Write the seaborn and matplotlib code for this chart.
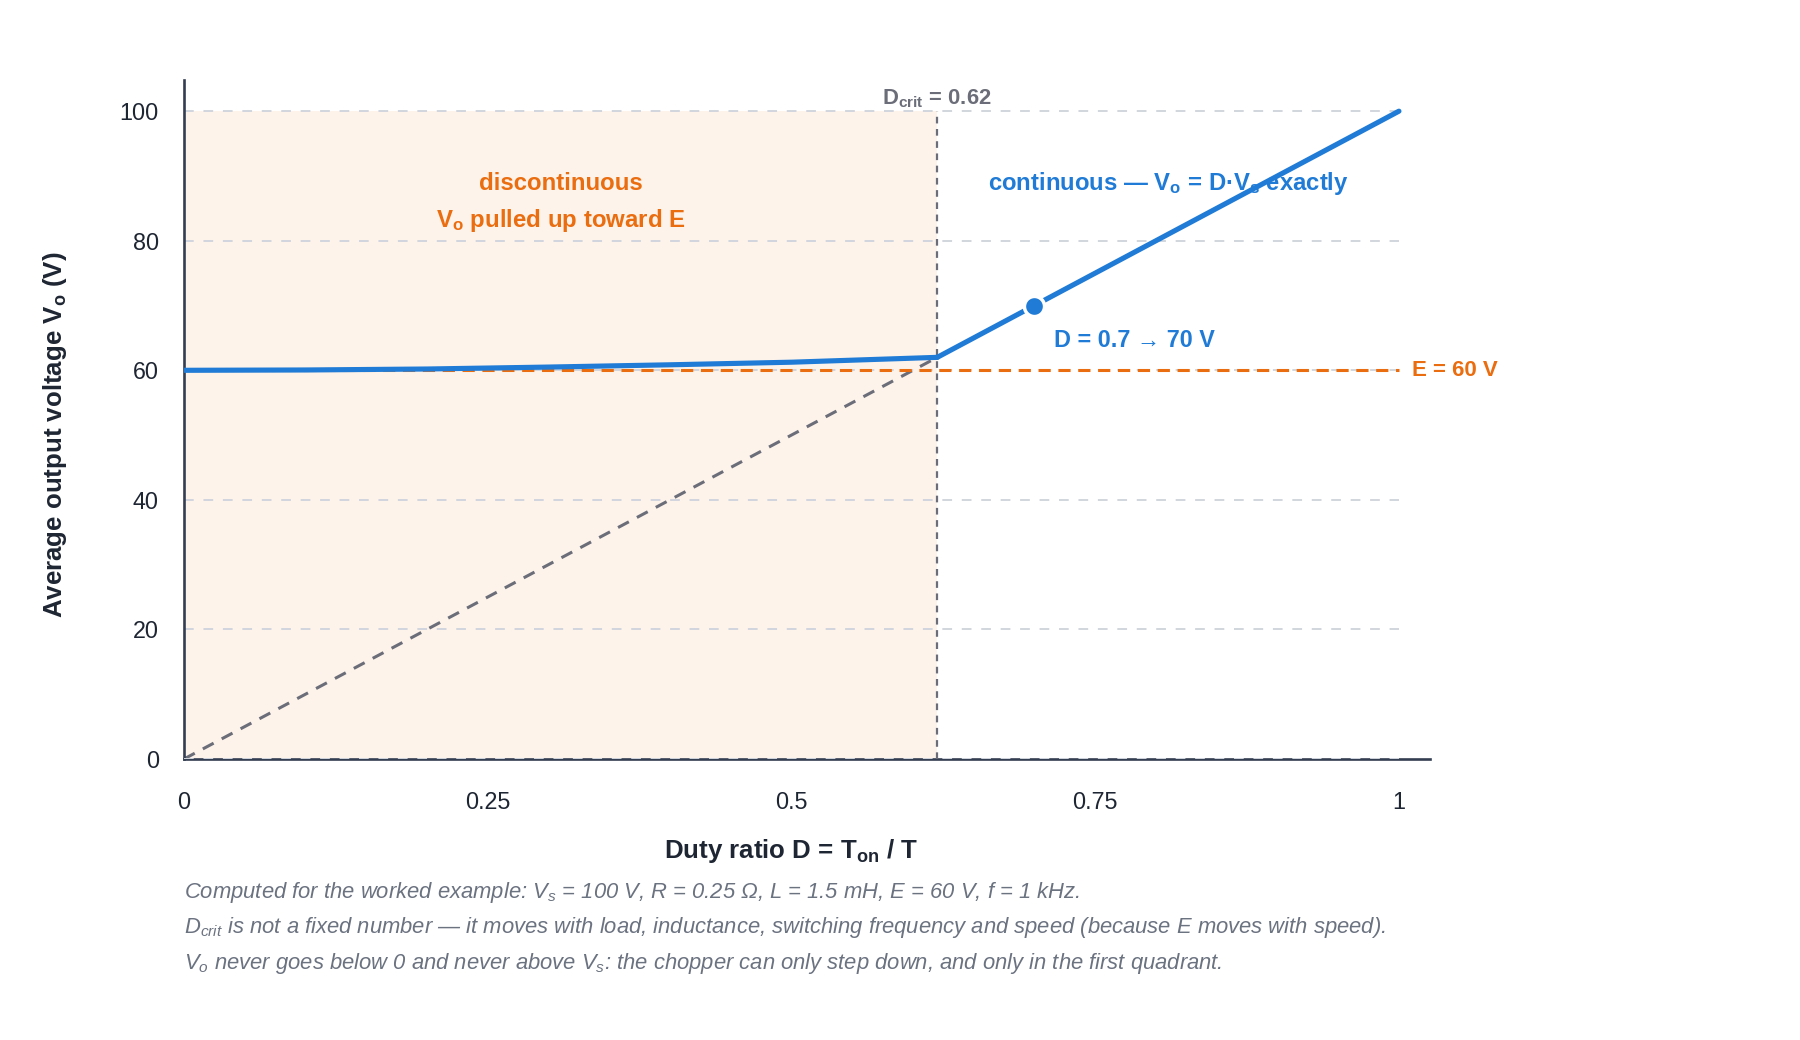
import matplotlib
matplotlib.use("Agg")
import matplotlib.pyplot as plt
import seaborn as sns
import pandas as pd

# Worked example: Vs = 100 V, E = 60 V, critical duty ratio 0.62
duty_disc = [0.0, 0.1, 0.2, 0.25, 0.3, 0.4, 0.5, 0.62]
vo_disc = [60.0, 60.05, 60.2, 60.35, 60.5, 60.85, 61.25, 62.0]
duty_cont = [0.62, 0.7, 0.8, 0.9, 1.0]
vo_cont = [62.0, 70.0, 80.0, 90.0, 100.0]
duty_ideal = [0.0, 0.62]
vo_ideal = [0.0, 62.0]
duty_e = [0.0, 1.0]
vo_e = [60.0, 60.0]
d_crit = 0.62
op_point = (0.7, 70.0)
x_ticks = [0, 0.25, 0.5, 0.75, 1]
x_ticklabels = ["0", "0.25", "0.5", "0.75", "1"]
y_ticks = [0, 20, 40, 60, 80, 100]

BLUE = "#1f7bd6"
ORANGE = "#ea6d10"
GREY = "#6b6d78"
SHADE = "#fdf3eb"
GRID = "#d1d5dd"
AXIS = "#343e52"
TEXT = "#1f2633"
CAPTION = "#6b7280"

sns.set_style("white")
plt.rcParams["font.family"] = ["Liberation Sans", "DejaVu Sans"]
plt.rcParams["mathtext.fontset"] = "custom"
plt.rcParams["mathtext.rm"] = "Liberation Sans"
plt.rcParams["mathtext.it"] = "Liberation Sans:italic"
plt.rcParams["mathtext.bf"] = "Liberation Sans:bold"

fig = plt.figure(figsize=(18, 10.4), dpi=100)
ax = fig.add_axes([0.1022, 0.2702, 0.6922, 0.6528])
XMAX, YMAX = 1.0255, 104.8

# discontinuous region shading and grid
ax.axvspan(0, d_crit, ymin=0, ymax=100 / YMAX, color=SHADE, lw=0, zorder=0)
ax.hlines(y_ticks[1:], 0, 1, colors=GRID, linestyles=(0, (5, 5)), lw=1.4, zorder=1)
ax.hlines(y_ticks[:1], 0, 1, colors=GRID, linestyles=(0, (5, 5)), lw=1.4, zorder=2.6)

disc = pd.DataFrame({"D": duty_disc, "Vo": vo_disc})
cont = pd.DataFrame({"D": duty_cont, "Vo": vo_cont})
ideal = pd.DataFrame({"D": duty_ideal, "Vo": vo_ideal})
emf = pd.DataFrame({"D": duty_e, "Vo": vo_e})

sns.lineplot(data=ideal, x="D", y="Vo", ax=ax, color=GREY, lw=2.2,
             linestyle=(0, (4, 3)), zorder=2)
sns.lineplot(data=emf, x="D", y="Vo", ax=ax, color=ORANGE, lw=2.2,
             linestyle=(0, (4, 2.5)), zorder=3)
ax.vlines(d_crit, 0, 100, colors=GREY, linestyles=(0, (3, 2.5)), lw=1.6, zorder=3)
sns.lineplot(data=disc, x="D", y="Vo", ax=ax, color=BLUE, lw=3.7, zorder=4)
sns.lineplot(data=cont, x="D", y="Vo", ax=ax, color=BLUE, lw=3.7, zorder=4)
ax.plot([op_point[0]], [op_point[1]], "o", ms=14.5, color=BLUE, mec="white",
        mew=2.5, zorder=5)

ax.set_xlim(0, XMAX)
ax.set_ylim(0, YMAX)
ax.set_xticks(x_ticks)
ax.set_xticklabels(x_ticklabels)
ax.set_yticks(y_ticks)
ax.tick_params(axis="x", length=10, width=1.8, color=AXIS, labelsize=16.8,
               labelcolor=TEXT, pad=13)
ax.tick_params(axis="y", length=0, labelsize=16.8, labelcolor=TEXT, pad=18)
ax.xaxis.get_major_ticks()[0].tick1line.set_visible(False)
for side in ["top", "right"]:
    ax.spines[side].set_visible(False)
for side in ["left", "bottom"]:
    ax.spines[side].set_color(AXIS)
    ax.spines[side].set_linewidth(1.9)

ax.set_xlabel(r"Duty ratio D = T$_\mathregular{on}$ / T", fontsize=18.6,
              fontweight="bold", color=TEXT)
ax.xaxis.set_label_coords(0.5 / XMAX, -0.115)
ax.set_ylabel(r"Average output voltage V$_\mathregular{o}$ (V)", fontsize=18.6,
              fontweight="bold", color=TEXT)
ax.yaxis.set_label_coords(-0.0925, 50 / YMAX)

ax.text(0.31, 88.8, "discontinuous", ha="center", va="center", fontsize=17.3,
        fontweight="bold", color=ORANGE)
ax.text(0.31, 83.2, r"V$_\mathregular{o}$ pulled up toward E", ha="center",
        va="center", fontsize=17.3, fontweight="bold", color=ORANGE)
ax.text(0.81, 88.8, r"continuous — V$_\mathregular{o}$ = D·V$_\mathregular{s}$ exactly",
        ha="center", va="center", fontsize=17.2, fontweight="bold", color=BLUE,
        zorder=3)
ax.text(0.782, 64.6, "D = 0.7 → 70 V", ha="center", va="center",
        fontsize=16.8, fontweight="bold", color=BLUE)
ax.text(1.0107, 60, "E = 60 V", ha="left", va="center", fontsize=16,
        fontweight="bold", color=ORANGE)
ax.text(d_crit, 102.0, r"D$_\mathregular{crit}$ = 0.62", ha="center", va="center",
        fontsize=15.8, fontweight="bold", color=GREY)

captions = [
    r"Computed for the worked example: V$_\mathregular{s}$ = 100 V, R = 0.25 Ω, "
    r"L = 1.5 mH, E = 60 V, f = 1 kHz.",
    r"D$_\mathregular{crit}$ is not a fixed number — it moves with load, inductance, "
    r"switching frequency and speed (because E moves with speed).",
    r"V$_\mathregular{o}$ never goes below 0 and never above V$_\mathregular{s}$: "
    r"the chopper can only step down, and only in the first quadrant.",
]
for i, line in enumerate(captions):
    fig.text(0.1025, 0.1423 - i * 0.0346, line, ha="left", va="center",
             fontsize=15.8, style="italic", color=CAPTION)

fig.savefig("out.png", dpi=100, facecolor="white")
